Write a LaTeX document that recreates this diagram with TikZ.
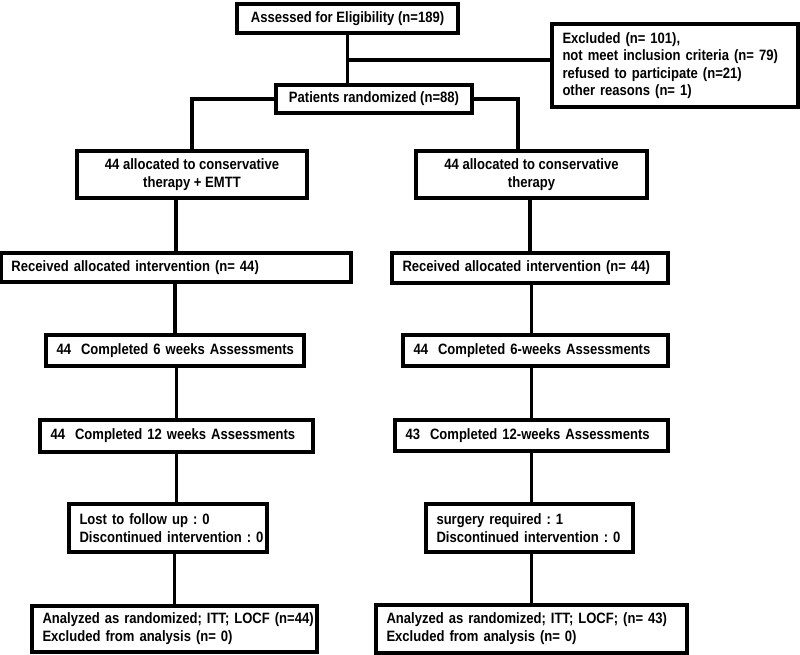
\documentclass[tikz,border=0pt]{standalone}
\usepackage{fontspec}
\usepackage{tikz}
\newfontfamily\flowfont{Liberation Sans}[FakeStretch=0.87]
\tikzset{
  cbox/.style={draw, line width=3.1pt, inner sep=0pt, align=center,
    font=\flowfont\bfseries\fontsize{15}{18}\selectfont,
    execute at begin node=\frenchspacing},
  lbox/.style={draw, line width=3.1pt, inner xsep=10.5pt, inner ysep=0pt, align=left,
    font=\flowfont\bfseries\fontsize{15}{18}\selectfont,
    execute at begin node={\frenchspacing\rightskip=0pt plus 2em minus 30pt}},
  link/.style={line width=3.1pt}
}

\begin{document}
\begin{tikzpicture}[x=1pt, y=-1pt]
		\useasboundingbox (0,0) rectangle (800,655);
		% Enrolment
		\node[cbox, minimum width=221pt, minimum height=29pt] (assess) at (347.5,18.5) {Assessed for Eligibility (n=189)};
		\node[lbox, minimum width=246pt, minimum height=83pt, text width=225pt,
		  font=\flowfont\bfseries\fontsize{15}{17.4}\selectfont] (excl) at (675,65.5)
		  {Excluded (n= 101),\\not meet inclusion criteria (n= 79)\\refused to participate (n=21)\\other reasons (n= 1)};
		\node[cbox, minimum width=196pt, minimum height=28pt] (rand) at (374,99) {Patients randomized (n=88)};
		% Allocation
		\node[cbox, minimum width=230pt, minimum height=47pt] (allocL) at (192,174.5) {44 allocated to conservative\\therapy + EMTT};
		\node[cbox, minimum width=231pt, minimum height=47pt] (allocR) at (531.5,174.5) {44 allocated to conservative\\therapy};
		\node[lbox, minimum height=29pt, text width=329pt] (recvL) at (176,267.5) {Received allocated intervention (n= 44)};
		\node[lbox, minimum height=30pt, text width=255pt] (recvR) at (530,268) {Received allocated intervention (n= 44)};
		% Follow-up
		\node[lbox, minimum height=31pt, text width=237pt] (sixL) at (175,350.5) {44\ \ Completed 6 weeks Assessments};
		\node[lbox, minimum height=31pt, text width=244pt] (sixR) at (535.5,350.5) {44\ \ Completed 6-weeks Assessments};
		\node[lbox, minimum height=32pt, text width=252pt] (twelveL) at (176.5,436) {44\ \ Completed 12 weeks Assessments};
		\node[lbox, minimum height=31pt, text width=252pt] (twelveR) at (531.5,435.5) {43\ \ Completed 12-weeks Assessments};
		\node[lbox, minimum height=48pt, text width=177pt] (lostL) at (168,528) {Lost to follow up : 0\\Discontinued intervention : 0};
		\node[lbox, minimum height=48pt, text width=186pt] (lostR) at (529.5,528) {surgery required : 1\\Discontinued intervention : 0};
		% Analysis
		\node[lbox, minimum height=46pt, text width=264pt] (anaL) at (174.5,629) {Analyzed as randomized; ITT; LOCF (n=44)\\Excluded from analysis (n= 0)};
		\node[lbox, minimum height=48pt, text width=290pt] (anaR) at (531.5,629) {Analyzed as randomized; ITT; LOCF; (n= 43)\\Excluded from analysis (n= 0)};
		% Connectors
		\coordinate (split) at (347.5,60);
		\draw[link] (assess.south) -- (assess.south |- rand.north);
		\draw[link] (split) -- (split -| excl.west);
		\draw[link] (rand.west) -| (allocL.north);
		\draw[link] (rand.east) -| ([xshift=-13.5pt]allocR.north);
		\draw[link] (recvL.north) -- (recvL.north |- allocL.south);
		\draw[link] (recvR.north) -- (recvR.north |- allocR.south);
		\draw[link] (sixL.north) -- (sixL.north |- recvL.south);
		\draw[link] (twelveR.north |- recvR.south) -- (twelveR.north |- sixR.north);
		\draw[link] (twelveL.north) -- (twelveL.north |- sixL.south);
		\draw[link] (twelveR.north) -- (twelveR.north |- sixR.south);
		\draw[link] (twelveL.south) -- (twelveL.south |- lostL.north);
		\draw[link] (twelveR.south) -- (twelveR.south |- lostR.north);
		\draw[link] (anaL.north) -- (anaL.north |- lostL.south);
		\draw[link] (anaR.north) -- (anaR.north |- lostR.south);
	\end{tikzpicture}
\end{document}
